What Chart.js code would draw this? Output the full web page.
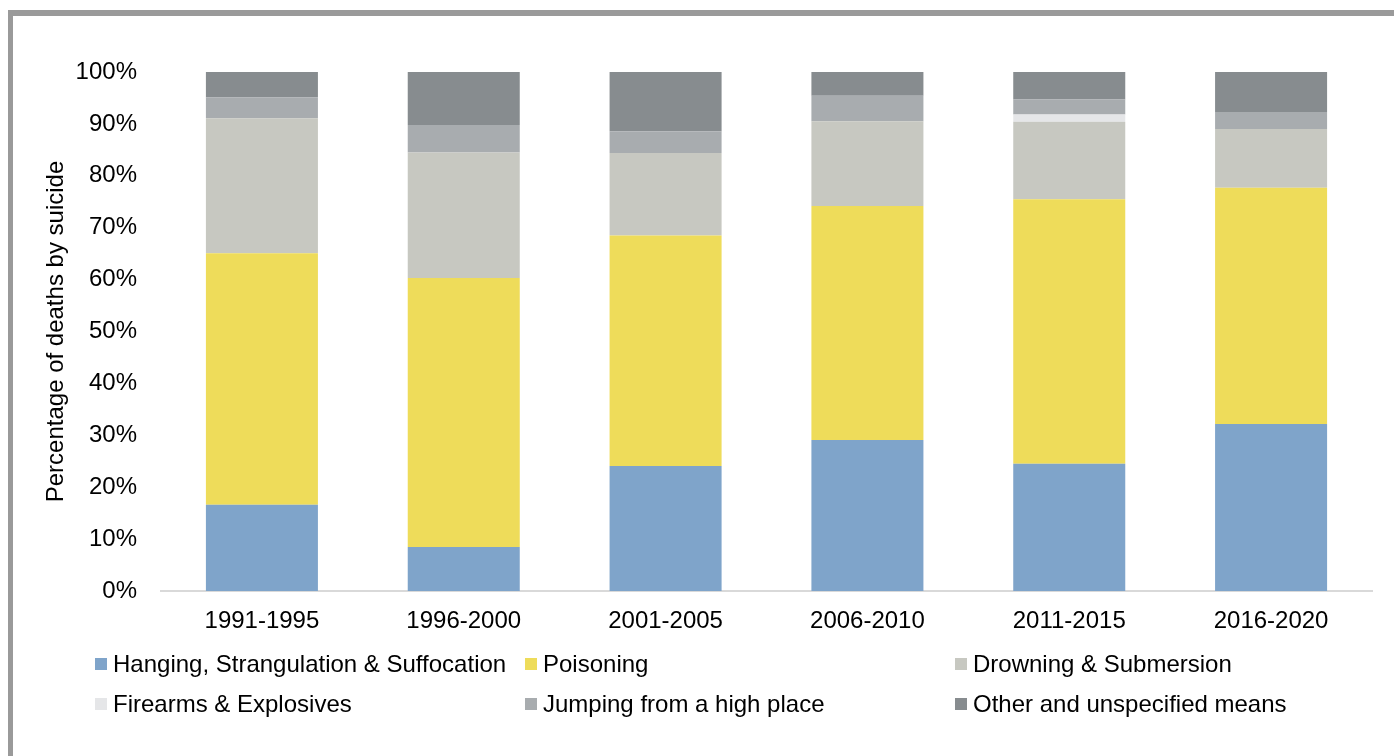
<!DOCTYPE html>
<html>
<head>
<meta charset="utf-8">
<script src="https://cdn.jsdelivr.net/npm/chart.js@4/dist/chart.umd.min.js"></script>
<style>
  html, body { margin: 0; padding: 0; background: #fff; overflow: hidden; }
  #wrap { position: relative; width: 1394px; height: 756px; }
  #frame {
    position: absolute; left: 8px; top: 10px; width: 1500px; height: 900px;
    border-top: 6px solid #9a9a9a; border-left: 5px solid #9a9a9a;
    box-sizing: border-box; pointer-events: none;
  }
  #chart { position: absolute; left: 0; top: 0; }
  #legend {
    position: absolute; left: 95px; top: 650px;
    display: grid; grid-template-columns: 430px 430px 430px; row-gap: 12px;
    font-family: "Liberation Sans", Arial, sans-serif; font-size: 24px; color: #000;
  }
  #legend .item { display: flex; align-items: center; height: 28px; white-space: nowrap; }
  #legend .box { width: 12px; height: 12px; margin-right: 6px; flex: none; }
</style>
</head>
<body>
<div id="wrap">
  <canvas id="chart" width="1394" height="756"></canvas>
  <div id="frame"></div>
  <div id="legend"></div>
</div>
<script>
// periods on the x axis
const categories = ['1991-1995', '1996-2000', '2001-2005', '2006-2010', '2011-2015', '2016-2020'];

// share of suicide deaths by method (%)
const hanging   = [16.6, 8.5, 24.1, 29.1, 24.5, 32.2];
const poisoning = [48.5, 51.8, 44.4, 45.1, 51.0, 45.5];
const drowning  = [26.0, 24.2, 15.9, 16.3, 14.9, 11.3];
const firearms  = [0, 0, 0, 0, 1.4, 0];
const jumping   = [4.0, 5.3, 4.2, 4.9, 2.9, 3.3];
const other     = [4.9, 10.2, 11.4, 4.6, 5.3, 7.7];

const seriesNames = [
    'Hanging, Strangulation & Suffocation',
    'Poisoning',
    'Drowning & Submersion',
    'Firearms & Explosives',
    'Jumping from a high place',
    'Other and unspecified means'
];
const yTicks = [0, 10, 20, 30, 40, 50, 60, 70, 80, 90, 100];

const colors = ['#7fa4ca', '#eedc5a', '#c7c8c1', '#e5e6e8', '#a8acaf', '#878c8f'];
const seriesValues = [hanging, poisoning, drowning, firearms, jumping, other];

const font = { family: '"Liberation Sans", Arial, sans-serif', size: 24 };

const chart = new Chart(document.getElementById('chart'), {
    type: 'bar',
    data: {
        labels: categories,
        datasets: seriesValues.map((vals, i) => ({
            label: seriesNames[i],
            data: vals,
            backgroundColor: colors[i],
            borderWidth: 0,
            categoryPercentage: 1,
            barPercentage: 0.555
        }))
    },
    options: {
        responsive: false,
        animation: false,
        layout: { padding: { left: 0, top: 72, right: 22, bottom: 0 } },
        scales: {
            x: {
                stacked: true,
                grid: { display: false, drawTicks: false },
                border: { display: true, color: '#d9d9d9', width: 2 },
                ticks: { color: '#000', font: font, padding: 16, maxRotation: 0 },
                afterFit: (scale) => { scale.height = 165; }
            },
            y: {
                stacked: true,
                min: 0,
                max: 100,
                afterBuildTicks: (scale) => { scale.ticks = yTicks.map(v => ({ value: v })); },
                grid: { display: false, drawTicks: false },
                border: { display: false },
                ticks: { color: '#000', font: font, padding: 24, callback: (v) => v + '%' },
                title: {
                    display: true,
                    text: 'Percentage of deaths by suicide',
                    color: '#000',
                    font: font,
                    padding: { top: 42, bottom: 0 }
                },
                afterFit: (scale) => { scale.width = 161; }
            }
        },
        plugins: {
            legend: { display: false },
            tooltip: { enabled: false }
        }
    }
});

// legend laid out as a 3-column grid, like the original
const legendEl = document.getElementById('legend');
chart.data.datasets.forEach((ds) => {
    const item = document.createElement('div');
    item.className = 'item';
    const box = document.createElement('span');
    box.className = 'box';
    box.style.background = ds.backgroundColor;
    const txt = document.createElement('span');
    txt.textContent = ds.label;
    item.appendChild(box);
    item.appendChild(txt);
    legendEl.appendChild(item);
});
</script>
</body>
</html>
